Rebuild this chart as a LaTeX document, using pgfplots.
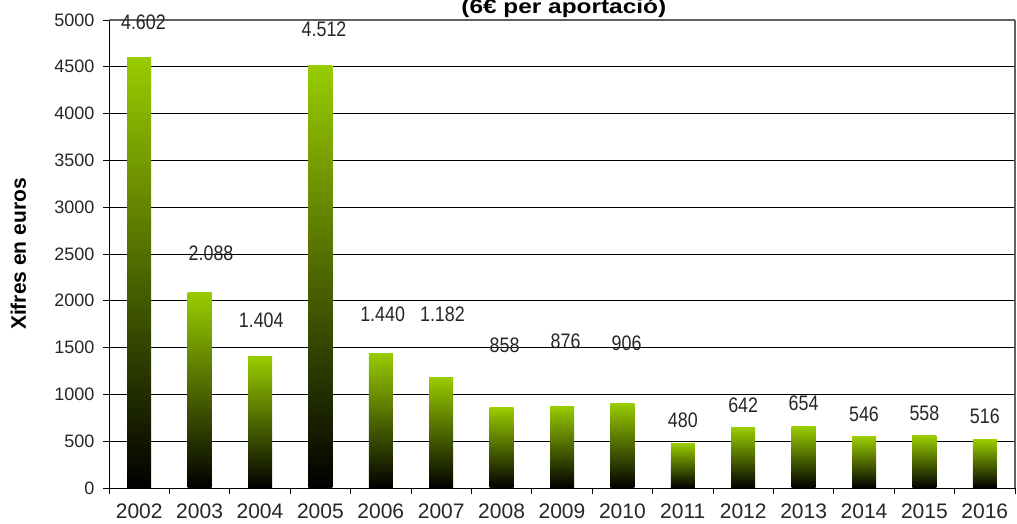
\documentclass[border=0pt]{standalone}
\usepackage{pgfplots}
\pgfplotsset{compat=1.18}
\usepackage{fontspec}
\setmainfont{Liberation Sans}
\newfontfamily\titlefont[FakeStretch=1.22]{Liberation Sans}
\newfontfamily\labfont[FakeStretch=0.85]{Liberation Sans}
\definecolor{barg}{RGB}{153,204,0}
\begin{document}
\begin{tikzpicture}
\begin{axis}[
  scale only axis,
  width=906pt, height=468pt,
  at={(109pt,36pt)}, anchor=south west,
  xmin=-0.5, xmax=14.5,
  ymin=0, ymax=5000,
  axis lines*=left,
  axis line style={black, line width=0.9pt},
  tick align=outside,
  major tick length=6pt,
  minor tick length=6pt,
  xtick={0,...,14},
  xticklabels={2002,2003,2004,2005,2006,2007,2008,2009,2010,2011,2012,2013,2014,2015,2016},
  major x tick style={draw=none},
  minor xtick={-0.5,0.5,...,14.5},
  minor x tick style={black, line width=0.9pt},
  ytick={0,500,...,4500},
  y tick style={black, line width=0.9pt},
  extra y ticks={5000},
  extra y tick style={major grid style={gray!75!black, line width=1.2pt}},
  extra x ticks={14.5},
  extra x tick labels={},
  extra x tick style={xmajorgrids=true, major tick length=0pt, major grid style={gray!75!black, line width=1.2pt}},
  ymajorgrids,
  major grid style={black, line width=0.9pt},
  /pgf/number format/1000 sep={},
  /pgf/number format/assume math mode=true,
  xticklabel style={font=\fontsize{21}{24}\selectfont, yshift=-6.5pt, text=black!85},
  yticklabel style={font=\fontsize{18}{21}\selectfont, xshift=-5pt, text=black!85},
  ylabel={Xifres en euros},
  every axis y label/.style={at={(axis description cs:-0.1,0.5)}, rotate=90, anchor=center, font=\bfseries\fontsize{21}{24}\selectfont},
  clip=false,
  barst/.style={ybar, bar width=24pt, draw=none, top color=barg, bottom color=black, forget plot},
]
\addplot[barst] coordinates {(0,4602)};
\addplot[barst] coordinates {(1,2088)};
\addplot[barst] coordinates {(2,1404)};
\addplot[barst] coordinates {(3,4512)};
\addplot[barst] coordinates {(4,1440)};
\addplot[barst] coordinates {(5,1182)};
\addplot[barst] coordinates {(6,858)};
\addplot[barst] coordinates {(7,876)};
\addplot[barst] coordinates {(8,906)};
\addplot[barst] coordinates {(9,480)};
\addplot[barst] coordinates {(10,642)};
\addplot[barst] coordinates {(11,654)};
\addplot[barst] coordinates {(12,546)};
\addplot[barst] coordinates {(13,558)};
\addplot[barst] coordinates {(14,516)};
\addplot[draw=none, mark=none, nodes near coords, point meta=explicit symbolic,
  every node near coord/.append style={anchor=center, inner sep=0pt, text=black!85, font=\labfont\fontsize{21}{24}\selectfont}]
  table[meta=lab] {
x y lab
0.07 4979 4.602
1.19 2510 2.088
2.02 1795 1.404
3.06 4904 4.512
4.03 1859 1.440
5.02 1859 1.182
6.05 1527 858
7.06 1570 876
8.07 1549 906
9.0 726 480
10.0 886 642
11.0 908 654
12.0 790 546
13.0 801 558
14.0 769 516
};
\node[anchor=base, font=\titlefont\bfseries\fontsize{20}{24}\selectfont] at (axis description cs:0.502,1) [yshift=6pt] {(6€ per aportació)};
\end{axis}
\pgfresetboundingbox
\useasboundingbox (0,0) rectangle (1017pt,524pt);
\end{tikzpicture}
\end{document}
